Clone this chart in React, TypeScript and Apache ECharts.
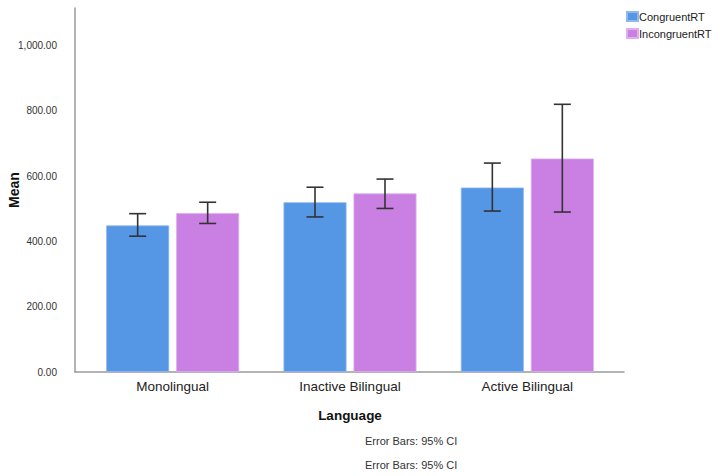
import React, { useEffect, useRef } from "react";
import * as echarts from "echarts";

// Mean reaction times by language group
const categories = ["Monolingual", "Inactive Bilingual", "Active Bilingual"];
const seriesNames = ["CongruentRT", "IncongruentRT"];
const congruentMean = [449, 520, 565];
const incongruentMean = [487, 547, 654];
// 95% confidence intervals
const congruentLow = [416, 475, 493];
const congruentHigh = [485, 566, 640];
const incongruentLow = [455, 501, 490];
const incongruentHigh = [520, 591, 820];

const yTicks = [0, 200, 400, 600, 800, 1000];

const BLUE = "#5596E5";
const PURPLE = "#CA7FE3";
const FONT = "Liberation Sans, Arial, sans-serif";

const BAR_W = 63;
const BAR_GAP = 7;

function errorSeries(low: number[], high: number[], offset: number) {
  return {
    type: "custom",
    xAxisIndex: 0,
    yAxisIndex: 0,
    silent: true,
    z: 10,
    encode: { x: 0, y: [1, 2] },
    data: categories.map((_, i) => [i, low[i], high[i]]),
    renderItem: (_params: any, api: any) => {
      const i = api.value(0);
      const pLo = api.coord([i, api.value(1)]);
      const pHi = api.coord([i, api.value(2)]);
      const cx = pLo[0] + offset;
      const cap = 8.5;
      const style = { stroke: "#333333", lineWidth: 1.6 };
      return {
        type: "group",
        children: [
          { type: "line", shape: { x1: cx, y1: pHi[1], x2: cx, y2: pLo[1] }, style },
          { type: "line", shape: { x1: cx - cap, y1: pHi[1], x2: cx + cap, y2: pHi[1] }, style },
          { type: "line", shape: { x1: cx - cap, y1: pLo[1], x2: cx + cap, y2: pLo[1] }, style },
        ],
      };
    },
  };
}

export default function App() {
  const ref = useRef<HTMLDivElement>(null);

  useEffect(() => {
    if (!ref.current) return;
    const chart = echarts.init(ref.current, undefined, { renderer: "svg" });
    const half = (BAR_W + BAR_GAP) / 2;
    chart.setOption({
      animation: false,
      backgroundColor: "#ffffff",
      textStyle: { fontFamily: FONT },
      legend: {
        orient: "vertical",
        left: 626,
        top: 11,
        padding: 0,
        itemWidth: 11,
        itemHeight: 9,
        itemGap: 6,
        icon: "rect",
        data: seriesNames,
        textStyle: { fontFamily: FONT, fontSize: 11, color: "#222", padding: [0, 0, 0, -4] },
      },
      grid: [
        { left: 84, right: 96, top: 8, bottom: 104, outerBoundsMode: "none", containLabel: false },
        { left: 75, right: 88, top: 8, bottom: 104, outerBoundsMode: "none", containLabel: false },
      ],
      xAxis: [
        {
          type: "category",
          gridIndex: 0,
          data: categories,
          axisLine: { show: false },
          axisTick: { show: false },
          axisLabel: { fontFamily: FONT, fontSize: 13.5, color: "#222", margin: 7 },
          name: "Language",
          nameLocation: "middle",
          nameGap: 36,
          nameTextStyle: { fontFamily: FONT, fontSize: 13.5, fontWeight: "bold", color: "#111" },
        },
        {
          type: "value",
          gridIndex: 1,
          min: 0,
          max: 1,
          axisLine: { show: true, lineStyle: { color: "#9a9a9a", width: 1.5 } },
          axisTick: { show: false },
          axisLabel: { show: false },
          splitLine: { show: false },
        },
      ],
      yAxis: [
        {
          type: "value",
          gridIndex: 0,
          min: 0,
          max: 1115,
          interval: 200,
          offset: 9,
          axisLine: { show: true, lineStyle: { color: "#9a9a9a", width: 1.5 } },
          axisTick: { show: false },
          splitLine: { show: false },
          axisLabel: {
            fontFamily: FONT,
            fontSize: 10,
            color: "#333",
            margin: 18,
            showMaxLabel: false,
            formatter: (v: number) =>
              yTicks.includes(v)
                ? v.toLocaleString("en-US", { minimumFractionDigits: 2, maximumFractionDigits: 2 })
                : "",
          },
        },
        {
          type: "value",
          gridIndex: 1,
          show: false,
        },
      ],
      series: [
        {
          name: seriesNames[0],
          type: "bar",
          xAxisIndex: 0,
          yAxisIndex: 0,
          barWidth: BAR_W,
          barGap: `${(BAR_GAP / BAR_W) * 100}%`,
          itemStyle: { color: BLUE, borderColor: "#8fb9ee", borderWidth: 0.8 },
          data: congruentMean,
        },
        {
          name: seriesNames[1],
          type: "bar",
          xAxisIndex: 0,
          yAxisIndex: 0,
          barWidth: BAR_W,
          itemStyle: { color: PURPLE, borderColor: "#deaeee", borderWidth: 0.8 },
          data: incongruentMean,
        },
        errorSeries(congruentLow, congruentHigh, -half),
        errorSeries(incongruentLow, incongruentHigh, half),
      ],
      graphic: [
        {
          type: "text",
          x: 14,
          y: 190,
          rotation: Math.PI / 2,
          style: {
            text: "Mean",
            fontFamily: FONT,
            fontSize: 14,
            fontWeight: "bold",
            fill: "#111",
            align: "center",
            verticalAlign: "middle",
          },
        },
        {
          type: "text",
          left: 365,
          top: 435,
          style: { text: "Error Bars: 95% CI", fontFamily: FONT, fontSize: 11, fill: "#333" },
        },
        {
          type: "text",
          left: 365,
          top: 459,
          style: { text: "Error Bars: 95% CI", fontFamily: FONT, fontSize: 11, fill: "#333" },
        },
      ],
    });
    return () => chart.dispose();
  }, []);

  return (
    <div
      ref={ref}
      style={{ position: "fixed", left: 0, top: 0, width: 712, height: 476, background: "#fff" }}
    />
  );
}
